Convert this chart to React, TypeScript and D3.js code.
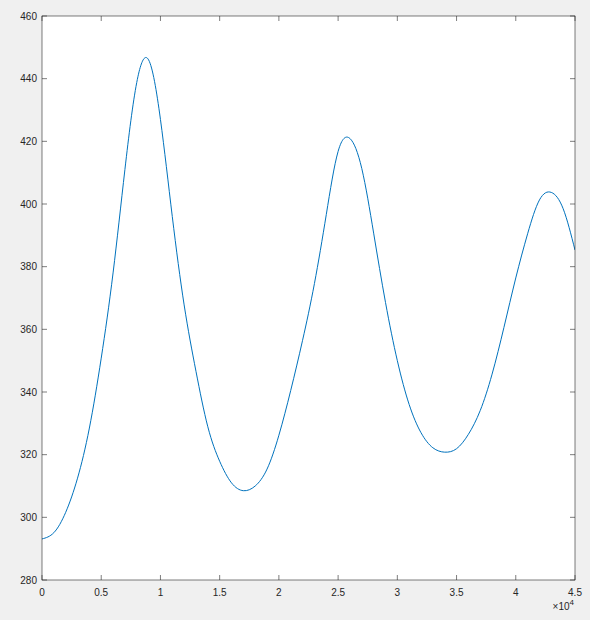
import React from "react";
import * as d3 from "d3";

// time samples (every 1000) and the values
const xValues = [0, 1000, 2000, 3000, 4000, 5000, 6000, 7000, 8000, 9000, 10000, 11000, 12000, 13000, 14000, 15000, 16000, 17000, 18000, 19000, 20000, 21000, 22000, 23000, 24000, 25000, 26000, 27000, 28000, 29000, 30000, 31000, 32000, 33000, 34000, 35000, 36000, 37000, 38000, 39000, 40000, 41000, 42000, 43000, 44000, 45000];
const yValues = [293.1, 295.1, 301.6, 312.5, 328.5, 350.8, 378, 411, 438.8, 446, 427, 396, 367.8, 346.6, 328.9, 317.9, 311, 308.5, 310, 315.4, 326.2, 340.5, 356.5, 374.6, 396.6, 416.8, 420.9, 411.3, 390.7, 368.6, 350, 336, 327, 322.2, 320.8, 321.9, 326.5, 334.1, 345.7, 360.6, 376.4, 390.5, 401.3, 403.7, 398.5, 385.3];
const xTicks = [0, 0.5, 1, 1.5, 2, 2.5, 3, 3.5, 4, 4.5];
const yTicks = [280, 300, 320, 340, 360, 380, 400, 420, 440, 460];

export default function App() {
  const W = 590, H = 620;
  const L = 42, R = 575, T = 16, B = 580;
  const x = d3.scaleLinear().domain([0, 45000]).range([L, R]);
  const y = d3.scaleLinear().domain([280, 460]).range([B, T]);
  const pts = xValues.map((v, i) => [v, yValues[i]] as [number, number]);
  const line = d3.line<[number, number]>()
    .x(d => x(d[0]))
    .y(d => y(d[1]))
    .curve(d3.curveNatural);
  const axisColor = "#262626";
  const tl = 5;
  const font = "Liberation Sans, Arial, Helvetica, sans-serif";
  return (
    <div style={{ position: "fixed", left: 0, top: 0 }}>
      <svg width={W} height={H} style={{ display: "block" }}>
        <rect x={0} y={0} width={W} height={H} fill="#f0f0f0" />
        <rect x={L} y={T} width={R - L} height={B - T} fill="#ffffff" />
        <defs>
          <clipPath id="plotclip">
            <rect x={L} y={T} width={R - L} height={B - T} />
          </clipPath>
        </defs>
        <path d={line(pts) || ""} fill="none" stroke="#0072BD" strokeWidth={1} clipPath="url(#plotclip)" />
        <g stroke={axisColor} strokeWidth={0.6} fill="none">
          <rect x={L} y={T} width={R - L} height={B - T} />
          {xTicks.map(t => (
            <g key={"xt" + t}>
              <line x1={x(t * 10000)} x2={x(t * 10000)} y1={B} y2={B - tl} />
              <line x1={x(t * 10000)} x2={x(t * 10000)} y1={T} y2={T + tl} />
            </g>
          ))}
          {yTicks.map(t => (
            <g key={"yt" + t}>
              <line x1={L} x2={L + tl} y1={y(t)} y2={y(t)} />
              <line x1={R} x2={R - tl} y1={y(t)} y2={y(t)} />
            </g>
          ))}
        </g>
        <g fill={axisColor} fontFamily={font} fontSize={10}>
          {xTicks.map(t => (
            <text key={"xl" + t} x={x(t * 10000)} y={B + 16} textAnchor="middle">{String(t)}</text>
          ))}
          {yTicks.map(t => (
            <text key={"yl" + t} x={L - 5} y={y(t) + 3.5} textAnchor="end">{String(t)}</text>
          ))}
          <text x={574} y={610} textAnchor="end">
            <tspan>×10</tspan>
            <tspan dy={-5} fontSize={8}>4</tspan>
          </text>
        </g>
      </svg>
    </div>
  );
}
